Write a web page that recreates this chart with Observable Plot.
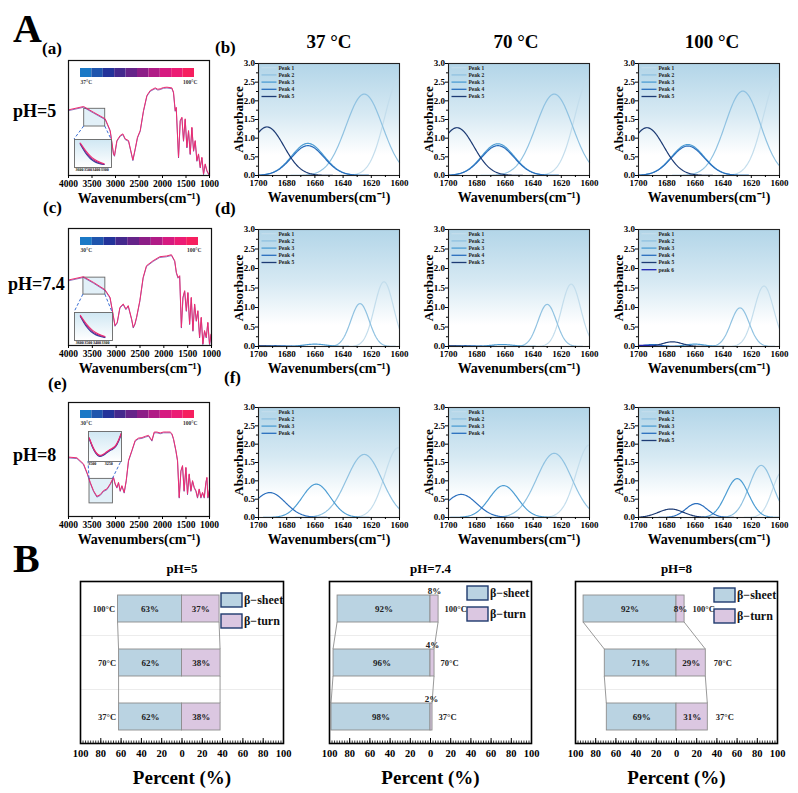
<!DOCTYPE html>
<html>
<head>
<meta charset="utf-8">
<script src="https://cdn.jsdelivr.net/npm/d3@7"></script>
<script src="https://cdn.jsdelivr.net/npm/@observablehq/plot@0.6"></script>
<style>
  body { margin: 0; background: #fff; }
  #fig { position: relative; width: 798px; height: 793px; overflow: hidden;
         font-family: "Liberation Serif", "Times New Roman", serif; font-weight: bold; color: #000; }
  .lbl { position: absolute; white-space: nowrap; line-height: 1; }
</style>
</head>
<body>
<div id="fig"></div>
<script>
// ---------- Data ----------
const phLabels = ["pH=5", "pH=7.4", "pH=8"];
const tempTitles = ["37 °C", "70 °C", "100 °C"];
const peakNames5 = ["Peak 1", "Peak 2", "Peak 3", "Peak 4", "Peak 5"];
const peakNames4 = ["Peak 1", "Peak 2", "Peak 3", "Peak 4"];
const peakNames6 = ["Peak 1", "Peak 2", "Peak 3", "Peak 4", "Peak 5", "peak 6"];
const peakColors = ["#c3ddec", "#90c2e1", "#4d9dd3", "#2a6ebd", "#1d3b74", "#1f22b0"];

// FTIR spectra, [wavenumber (cm-1), transmittance (a.u.)]
const spectrum_pH5 = [[4000,57.1],[3680,60],[3467,55],[3219,49.3],[3113,39.1],[3042,18.8],[3021,17.4],[2970,30.4],[2900,34.8],[2843,36.2],[2793,31.9],[2723,30.4],[2630,13.6],[2581,23.2],[2532,33.3],[2474,39.1],[2404,56.5],[2332,69.6],[2261,73.9],[2155,76.2],[2100,75],[2049,75.4],[1980,76.5],[1906,76.8],[1800,76.2],[1766,72.5],[1730,56.5],[1708,59.4],[1659,15.9],[1623,47.8],[1587,50.7],[1553,30.4],[1517,49.3],[1481,24.6],[1446,39.1],[1410,18.8],[1375,42],[1339,21.7],[1304,30.4],[1268,13],[1234,18.8],[1197,7.2],[1162,15.9],[1127,1.4],[1091,10.1],[1055,4.3],[1000,0]];
const spectrum_pH74 = [[4000,56],[3687,58.8],[3478,54],[3234,47.7],[3129,41.2],[3060,25.6],[3025,17.1],[2977,19.9],[2921,32.7],[2852,35.5],[2796,31.3],[2747,34.1],[2676,22.7],[2642,15.6],[2607,18.5],[2572,24.2],[2503,38.4],[2434,58.2],[2364,68.2],[2225,72.5],[2085,75.9],[1946,76.5],[1841,77.6],[1772,72.5],[1737,62.5],[1703,58.2],[1668,59.7],[1632,15.6],[1599,41.2],[1563,46.9],[1528,29.8],[1495,45.4],[1459,18.5],[1424,41.2],[1390,12.8],[1354,35.5],[1319,21.3],[1286,29.8],[1250,7.1],[1215,24.2],[1181,1.4],[1146,12.8],[1110,7.1],[1077,19.9],[1042,1.4],[1006,10],[1000,0]];
const spectrum_pH8 = [[4000,52.1],[3821,51.5],[3681,46.2],[3596,37.4],[3538,30],[3468,22.7],[3396,17.7],[3325,19.2],[3255,22.7],[3183,24.2],[3113,28.6],[3042,34.4],[3006,28.6],[2970,25.6],[2936,30],[2900,22.7],[2864,27.1],[2815,21.2],[2772,31.5],[2723,49.2],[2651,58],[2581,66.8],[2510,68.8],[2438,69.2],[2368,70.3],[2298,71.2],[2225,66.8],[2176,74.1],[2119,74.1],[2049,73.3],[1978,74.1],[1906,74.1],[1836,74.1],[1800,72.7],[1766,68.3],[1715,58],[1680,49.2],[1644,16.8],[1608,40.3],[1574,44.7],[1540,22.7],[1502,43.2],[1468,19.8],[1432,37.4],[1396,22.7],[1361,31.5],[1325,25.6],[1289,22.7],[1255,16.8],[1219,24.2],[1183,16.8],[1148,21.2],[1112,16.8],[1077,30],[1055,34.4],[1034,16.8],[1000,24.2]];

// O–H stretch close-ups (relative units), one line per temperature
const insetWn_pH5 = [3592, 3551, 3511, 3470, 3430, 3389, 3349, 3308];
const inset37_pH5 = [0.88, 0.65, 0.46, 0.32, 0.23, 0.17, 0.13, 0.11];
const inset70_pH5 = [0.90, 0.69, 0.50, 0.36, 0.27, 0.20, 0.15, 0.12];
const inset100_pH5 = [0.92, 0.74, 0.56, 0.42, 0.32, 0.24, 0.18, 0.14];
const insetWn_pH74 = [3592, 3551, 3511, 3470, 3430, 3389, 3349, 3308];
const inset30_pH74 = [0.90, 0.66, 0.47, 0.33, 0.24, 0.18, 0.14, 0.11];
const inset70_pH74 = [0.92, 0.70, 0.51, 0.37, 0.28, 0.21, 0.16, 0.13];
const inset100_pH74 = [0.94, 0.75, 0.57, 0.43, 0.33, 0.25, 0.19, 0.15];
const insetWn_pH8 = [3545, 3496, 3446, 3397, 3347, 3298, 3248, 3199, 3149, 3100, 3065];
const inset30_pH8 = [0.80, 0.49, 0.27, 0.16, 0.19, 0.27, 0.36, 0.42, 0.49, 0.72, 0.95];
const inset70_pH8 = [0.82, 0.51, 0.29, 0.18, 0.21, 0.29, 0.38, 0.44, 0.51, 0.74, 0.97];
const inset100_pH8 = [0.83, 0.53, 0.31, 0.20, 0.23, 0.31, 0.40, 0.46, 0.53, 0.76, 0.98];

// Heating gradient shown as a colour bar (low → 100 °C)
const heatColors = ["#1b79c6", "#1f55ad", "#23339a", "#44298d", "#652489", "#8c1e87", "#b01b86", "#d61a80", "#ec1b74", "#f61f5f"];

// Amide I band components: [centre (cm-1), height, sigma (cm-1)]
const bands_pH5_37 = [[1600, 2.58, 10.5], [1625, 2.18, 13], [1665, 0.86, 11.5], [1665, 0.80, 11.5], [1694, 1.30, 12]];
const bands_pH5_70 = [[1600, 2.58, 10.5], [1625, 2.18, 13], [1665, 0.85, 11.5], [1665, 0.80, 11.5], [1694, 1.28, 12]];
const bands_pH5_100 = [[1601, 2.6, 10.5], [1626, 2.26, 12.5], [1665, 0.83, 11.5], [1665, 0.79, 11.5], [1694, 1.28, 12]];
const bands_pH74_37 = [[1611, 1.66, 6.8], [1628, 1.10, 6.5], [1660, 0.06, 8], [1688, 0.02, 8], [1700, 0.02, 6]];
const bands_pH74_70 = [[1613, 1.60, 6.8], [1630, 1.08, 6.5], [1662, 0.05, 8], [1688, 0.02, 8], [1700, 0.02, 6]];
const bands_pH74_100 = [[1611, 1.55, 7], [1628, 0.99, 6.5], [1660, 0.06, 7], [1690, 0.05, 6], [1676, 0.12, 7], [1697, 0.03, 5]];
const bands_pH8_37 = [[1601, 1.90, 9.5], [1625, 1.72, 12.5], [1659, 0.91, 10], [1692, 0.68, 11]];
const bands_pH8_70 = [[1600, 1.98, 9.5], [1625, 1.75, 12.5], [1661, 0.87, 10], [1691, 0.63, 11]];
const bands_pH8_100 = [[1598, 1.25, 7], [1613, 1.42, 8.5], [1630, 1.06, 8], [1659, 0.38, 7.5], [1677, 0.23, 9]];

// Secondary structure fractions (%)
const structTemps = ["100°C", "70°C", "37°C"];
const sheet_pH5 = [63, 62, 62], turn_pH5 = [37, 38, 38];
const sheet_pH74 = [92, 96, 98], turn_pH74 = [8, 4, 2];
const sheet_pH8 = [92, 71, 69], turn_pH8 = [8, 29, 31];
const structNames = ["β−sheet", "β−turn"];

// ---------- Helpers ----------
const fig = document.getElementById("fig");
const serif = "'Liberation Serif', 'Times New Roman', serif";
const plain = d3.format("d");
const baseStyle = (size) => ({fontFamily: serif, fontWeight: "bold", fontSize: size + "px",
  overflow: "visible", background: "none", color: "#000"});

function place(svg, left, top) {
  svg.style.position = "absolute";
  svg.style.left = left + "px";
  svg.style.top = top + "px";
  fig.appendChild(svg);
}

function label(text, x, baseline, size, anchor = "start") {
  const d = document.createElement("div");
  d.className = "lbl";
  d.textContent = text;
  d.style.fontSize = size + "px";
  d.style.left = x + "px";
  d.style.top = (baseline - 0.8375 * size) + "px";
  if (anchor === "middle") d.style.transform = "translateX(-50%)";
  fig.appendChild(d);
}

// vertical gradient filling the plot frame
function gradientBg(id, stops) {
  return (index, scales, values, dims) => {
    const g = d3.create("svg:g");
    const lg = g.append("defs").append("linearGradient").attr("id", id)
      .attr("x1", 0).attr("y1", 0).attr("x2", 0).attr("y2", 1);
    for (const [o, c] of stops) lg.append("stop").attr("offset", o).attr("stop-color", c);
    g.append("rect")
      .attr("x", dims.marginLeft).attr("y", dims.marginTop)
      .attr("width", dims.width - dims.marginLeft - dims.marginRight)
      .attr("height", dims.height - dims.marginTop - dims.marginBottom)
      .attr("fill", `url(#${id})`);
    return g.node();
  };
}
const skyStops = [[0, "#b2d5e8"], [0.45, "#d6e9f3"], [0.82, "#ffffff"], [1, "#ffffff"]];

// ---------- Amide I deconvolution panels ----------
function peakLegend(names, colors) {
  return (index, scales, values, dims) => {
    const g = d3.create("svg:g").attr("font-size", 5.5).attr("font-weight", "bold").attr("text-anchor", "start");
    names.forEach((n, i) => {
      const y = dims.marginTop + 4.7 + i * 7.2;
      const x = dims.marginLeft + 3.5;
      g.append("line").attr("x1", x).attr("x2", x + 15).attr("y1", y).attr("y2", y)
        .attr("stroke", colors[i]).attr("stroke-width", 1.3);
      g.append("text").attr("x", x + 17).attr("y", y).attr("dy", "0.35em").attr("fill", "#222").text(n);
    });
    return g.node();
  };
}

let gid = 0;
function deconPanel(bands, names, [x0, y0, x1, y1]) {
  const mL = 44, mR = 14, mT = 8, mB = 34;
  const colors = peakColors.slice(0, names.length);
  const grid = d3.range(1700, 1599.9, -0.5);
  const curves = bands.flatMap(([c, a, s], i) =>
    grid.map((w) => ({peak: names[i], w, A: a * Math.exp(-((w - c) ** 2) / (2 * s * s))})));
  const svg = Plot.plot({
    width: x1 - x0 + mL + mR, height: y1 - y0 + mT + mB,
    marginLeft: mL, marginRight: mR, marginTop: mT, marginBottom: mB,
    style: baseStyle(9),
    x: {domain: [1700, 1600]},
    y: {domain: [0, 3]},
    color: {domain: names, range: colors},
    marks: [
      gradientBg("sky" + (gid++), skyStops),
      Plot.line(curves, {x: "w", y: "A", z: "peak", stroke: "peak", strokeWidth: 1.2}),
      peakLegend(names, colors),
      Plot.frame({stroke: "#222", strokeWidth: 1.1}),
      Plot.axisX({ticks: d3.range(1700, 1599, -20), tickFormat: plain, tickSize: 3, tickPadding: 1.5, fontSize: 9, label: null}),
      Plot.axisX({ticks: d3.range(1690, 1600, -20), tickSize: 2, tickFormat: () => "", label: null}),
      Plot.axisY({ticks: d3.range(0, 3.01, 0.5), tickFormat: d3.format(".1f"), tickSize: 3, tickPadding: 0.5, fontSize: 9, label: null}),
      Plot.axisY({ticks: d3.range(0.25, 3, 0.5), tickSize: 2, tickFormat: () => "", label: null}),
      Plot.text(["Wavenumbers(cm⁻¹)"], {text: (d) => d, frameAnchor: "bottom", lineAnchor: "middle", dy: 22, fontSize: 14, fontWeight: "bold"}),
      Plot.text(["Absorbance"], {text: (d) => d, frameAnchor: "left", textAnchor: "middle", lineAnchor: "middle", dx: -20, rotate: -90, fontSize: 13, fontWeight: "bold"})
    ]
  });
  place(svg, x0 - mL, y0 - mT);
}

// ---------- Full-range FTIR panels ----------
function zoomConnectors(box, insetFrame, insetBelow, ox, oy) {
  return (index, {x, y}) => {
    const g = d3.create("svg:g").attr("stroke", "#3a6fd4").attr("stroke-width", 1)
      .attr("stroke-dasharray", "3,2").attr("fill", "none");
    const [ix0, iy0, ix1, iy1] = insetFrame;
    const by = insetBelow ? y(box.t1) : y(box.t2);
    const iy = (insetBelow ? iy0 : iy1) - oy;
    g.append("line").attr("x1", x(box.w1)).attr("y1", by).attr("x2", ix0 - ox).attr("y2", iy);
    g.append("line").attr("x1", x(box.w2)).attr("y1", by).attr("x2", ix1 - ox).attr("y2", iy);
    return g.node();
  };
}

function spectrumPanel(p) {
  const [x0, y0, x1, y1] = p.frame;
  const mL = 14, mR = 14, mT = 4, mB = 34;
  const pts = p.spectrum.map(([w, t]) => ({w, t}));
  const svg = Plot.plot({
    width: x1 - x0 + mL + mR, height: y1 - y0 + mT + mB,
    marginLeft: mL, marginRight: mR, marginTop: mT, marginBottom: mB,
    style: baseStyle(9.5),
    x: {domain: [4000, 1000]},
    y: {domain: [0, 100], axis: null},
    marks: [
      Plot.rect([p.box], {x1: "w1", x2: "w2", y1: "t1", y2: "t2", fill: "#cfe6f3", fillOpacity: 0.6, stroke: "#666", strokeWidth: 0.9}),
      Plot.line(pts, {x: "w", y: "t", stroke: "#5a36a0", strokeWidth: 1, strokeOpacity: 0.7, dy: 0.8}),
      Plot.line(pts, {x: "w", y: "t", stroke: "#ee2c70", strokeWidth: 1}),
      zoomConnectors(p.box, p.insetFrame, p.insetBelow, x0 - mL, y0 - mT),
      Plot.frame({stroke: "#111", strokeWidth: 1.2}),
      Plot.axisX({ticks: d3.range(4000, 999, -500), tickFormat: plain, tickSize: 3, tickPadding: 1.5, fontSize: 9.5, label: null}),
      Plot.text(["Wavenumbers(cm⁻¹)"], {text: (d) => d, frameAnchor: "bottom", lineAnchor: "middle", dy: 23, fontSize: 14, fontWeight: "bold"})
    ]
  });
  place(svg, x0 - mL, y0 - mT);

  // close-up of the O–H stretch region
  const [ix0, iy0, ix1, iy1] = p.insetFrame;
  const iL = 1, iR = 1, iT = 1, iB = 6;
  const mk = (vals) => vals.map((v, i) => ({w: p.insetWn[i], v}));
  const inset = Plot.plot({
    width: ix1 - ix0 + iL + iR, height: iy1 - iy0 + iT + iB,
    marginLeft: iL, marginRight: iR, marginTop: iT, marginBottom: iB,
    style: baseStyle(4),
    x: {domain: p.insetDomain},
    y: {domain: [0, 1.05], axis: null},
    marks: [
      gradientBg("sky" + (gid++), [[0, "#cfe7f3"], [1, "#ffffff"]]),
      Plot.line(mk(p.insetLines[0]), {x: "w", y: "v", stroke: "#2c3f9e", strokeWidth: 1.1, curve: "basis"}),
      Plot.line(mk(p.insetLines[1]), {x: "w", y: "v", stroke: "#8d2a8c", strokeWidth: 1.1, curve: "basis"}),
      Plot.line(mk(p.insetLines[2]), {x: "w", y: "v", stroke: "#ee2c70", strokeWidth: 1.1, curve: "basis"}),
      Plot.frame({stroke: "#666", strokeWidth: 0.9}),
      Plot.axisX({ticks: p.insetTicks, tickFormat: plain, tickSize: 0, tickPadding: 1, fontSize: 4, label: null})
    ]
  });
  place(inset, ix0 - iL, iy0 - iT);

  // heating colour bar
  const [bx0, by0, bx1, by1] = p.barFrame;
  const steps = heatColors.map((c, i) => ({i, c}));
  const bar = Plot.plot({
    width: bx1 - bx0, height: by1 - by0 + 8,
    marginLeft: 0, marginRight: 0, marginTop: 0, marginBottom: 8,
    style: baseStyle(5.5),
    x: {domain: [0, heatColors.length], axis: null},
    color: {type: "identity"},
    marks: [
      Plot.barX(steps, {x1: "i", x2: (d) => d.i + 1, fill: "c"}),
      Plot.text([p.lowLabel], {text: (d) => d, frameAnchor: "bottom-left", textAnchor: "start", lineAnchor: "middle", dy: 5, fontSize: 5.5, fill: "#333"}),
      Plot.text(["100°C"], {text: (d) => d, frameAnchor: "bottom-right", textAnchor: "end", lineAnchor: "middle", dx: 3, dy: 5, fontSize: 5.5, fill: "#333"})
    ]
  });
  place(bar, bx0, by0);
}

// ---------- Secondary structure bars ----------
function structConnectors(rows) {
  return (index, {x, y}, values, dims) => {
    const bw = typeof y.bandwidth === "function" ? y.bandwidth() : y.bandwidth;
    const g = d3.create("svg:g").attr("fill", "none");
    // faint separators between categories
    for (let i = 1; i < rows.length; i++) {
      const ym = (y(rows[i - 1].temp) + bw + y(rows[i].temp)) / 2;
      g.append("line").attr("x1", dims.marginLeft).attr("x2", dims.width - dims.marginRight)
        .attr("y1", ym).attr("y2", ym).attr("stroke", "#ececec").attr("stroke-width", 1);
    }
    for (let i = 1; i < rows.length; i++) {
      const a = rows[i - 1], b = rows[i];
      const ya = y(a.temp) + bw, yb = y(b.temp);
      g.append("line").attr("x1", x(-a.sheet)).attr("y1", ya).attr("x2", x(-b.sheet)).attr("y2", yb)
        .attr("stroke", "#8d8d8d").attr("stroke-width", 0.9);
      g.append("line").attr("x1", x(a.turn)).attr("y1", ya).attr("x2", x(b.turn)).attr("y2", yb)
        .attr("stroke", "#8d8d8d").attr("stroke-width", 0.9);
    }
    return g.node();
  };
}

function structLegend(fills, dxRight, dyTop) {
  return (index, scales, values, dims) => {
    const g = d3.create("svg:g").attr("font-size", 12).attr("font-weight", "bold").attr("text-anchor", "start");
    const xr = dims.width - dims.marginRight + dxRight;
    structNames.forEach((n, i) => {
      const yt = dims.marginTop + dyTop + i * 21;
      g.append("rect").attr("x", xr).attr("y", yt).attr("width", 21).attr("height", 14)
        .attr("fill", fills[i]).attr("stroke", "#1f3a6e").attr("stroke-width", 1.4);
      g.append("text").attr("x", xr + 23).attr("y", yt + 7).attr("dy", "0.35em").attr("fill", "#111").text(n);
    });
    return g.node();
  };
}

function structPanel(p) {
  const [x0, y0, x1, y1] = p.frame;
  const mL = 24, mR = 24, mT = 30, mB = 50;
  const rows = structTemps.map((temp, i) => ({temp, sheet: p.sheet[i], turn: p.turn[i]}));
  const fills = ["#bad3e2", "#dbc7e1"];
  const fh = y1 - y0;
  const svg = Plot.plot({
    width: x1 - x0 + mL + mR, height: y1 - y0 + mT + mB,
    marginLeft: mL, marginRight: mR, marginTop: mT, marginBottom: mB,
    style: baseStyle(10),
    x: {domain: [-100, 100]},
    y: {domain: structTemps, paddingInner: 0.5, paddingOuter: 0.23, axis: null},
    marks: [
      structConnectors(rows),
      Plot.barX(rows, {x1: () => 0, x2: (d) => -d.sheet, y: "temp", fill: fills[0], stroke: "#8d8d8d", strokeWidth: 0.9}),
      Plot.barX(rows, {x1: () => 0, x2: (d) => d.turn, y: "temp", fill: fills[1], stroke: "#8d8d8d", strokeWidth: 0.9}),
      Plot.text(rows, {x: (d) => -d.sheet / 2, y: "temp", text: (d) => d.sheet + "%", fontSize: 9, fill: "#222"}),
      Plot.text(rows, {x: (d) => d.turn / 2, y: "temp", text: (d) => d.turn + "%", fontSize: 9, fill: "#222", dy: p.turnAbove ? -18 : 0}),
      p.tempLeft
        ? Plot.text(rows, {x: (d) => -d.sheet, y: "temp", text: "temp", textAnchor: "end", dx: -3, fontSize: 8.5, fill: "#222"})
        : Plot.text(rows, {x: (d) => d.turn, y: "temp", text: "temp", textAnchor: "start", dx: p.tempDx, fontSize: 8.5, fill: "#222"}),
      structLegend(fills, p.legendDx, p.legendDy),
      Plot.frame({stroke: "#000", strokeWidth: 1.6}),
      Plot.tickX(d3.range(-100, 100.1, 20), {x: (d) => d, insetTop: fh - 5, stroke: "#000", strokeWidth: 1}),
      Plot.tickX(d3.range(-97.5, 100, 2.5), {x: (d) => d, insetTop: fh - 2.5, stroke: "#000", strokeWidth: 0.8}),
      Plot.axisX({ticks: d3.range(-100, 100.1, 20), tickFormat: (d) => Math.abs(d), tickSize: 0, tickPadding: 6, fontSize: 10.5, label: null}),
      Plot.text(["Percent (%)"], {text: (d) => d, frameAnchor: "bottom", lineAnchor: "middle", dy: 34, fontSize: 19, fontWeight: "bold"}),
      Plot.text([p.title], {text: (d) => d, frameAnchor: "top", lineAnchor: "middle", dy: -13, fontSize: 13, fontWeight: "bold"})
    ]
  });
  place(svg, x0 - mL, y0 - mT);
}

// ---------- Layout ----------
label("A", 13, 42, 40);
label("(a)", 42, 54, 17);
label("(b)", 215, 53, 17);
label(tempTitles[0], 329, 48, 19, "middle");
label(tempTitles[1], 516, 48, 19, "middle");
label(tempTitles[2], 712, 48, 19, "middle");
label(phLabels[0], 13, 117, 18);
label("(c)", 43, 213, 17);
label("(d)", 215, 214, 17);
label(phLabels[1], 8, 290, 18);
label("(e)", 48, 389, 17);
label("(f)", 224, 383, 17);
label(phLabels[2], 13, 461, 18);
label("B", 13, 572, 40);

spectrumPanel({
  frame: [68, 60, 209, 175], spectrum: spectrum_pH5,
  box: {w1: 3666, w2: 3219, t1: 42.6, t2: 58},
  insetFrame: [74, 139, 111, 167], insetBelow: true,
  insetDomain: [3660, 3220], insetTicks: [3600, 3500, 3400, 3300],
  insetWn: insetWn_pH5, insetLines: [inset37_pH5, inset70_pH5, inset100_pH5],
  barFrame: [80, 68, 194, 77], lowLabel: "37°C"
});
spectrumPanel({
  frame: [68, 228, 211, 345], spectrum: spectrum_pH74,
  box: {w1: 3687, w2: 3227, t1: 43.5, t2: 58},
  insetFrame: [74, 312, 112, 340], insetBelow: true,
  insetDomain: [3660, 3220], insetTicks: [3600, 3500, 3400, 3300],
  insetWn: insetWn_pH74, insetLines: [inset30_pH74, inset70_pH74, inset100_pH74],
  barFrame: [80, 237, 198, 245], lowLabel: "30°C"
});
spectrumPanel({
  frame: [68, 402, 209, 516], spectrum: spectrum_pH8,
  box: {w1: 3553, w2: 3055, t1: 11.5, t2: 33},
  insetFrame: [88, 431, 121, 461], insetBelow: false,
  insetDomain: [3555, 3060], insetTicks: [3500, 3250],
  insetWn: insetWn_pH8, insetLines: [inset30_pH8, inset70_pH8, inset100_pH8],
  barFrame: [80, 410, 194, 418], lowLabel: "30°C"
});

const colsX = [[258, 399], [448, 589], [638, 779]];
const rowsY = [[63, 175], [229, 346], [407, 517]];
const deconGrid = [
  [[bands_pH5_37, peakNames5], [bands_pH5_70, peakNames5], [bands_pH5_100, peakNames5]],
  [[bands_pH74_37, peakNames5], [bands_pH74_70, peakNames5], [bands_pH74_100, peakNames6]],
  [[bands_pH8_37, peakNames4], [bands_pH8_70, peakNames4], [bands_pH8_100, peakNames5]]
];
deconGrid.forEach((row, r) => row.forEach(([bands, names], c) =>
  deconPanel(bands, names, [colsX[c][0], rowsY[r][0], colsX[c][1], rowsY[r][1]])));

structPanel({title: phLabels[0], frame: [80, 581, 283, 743], sheet: sheet_pH5, turn: turn_pH5,
  tempLeft: true, turnAbove: false, legendDx: -62, legendDy: 12});
structPanel({title: phLabels[1], frame: [329, 581, 531, 743], sheet: sheet_pH74, turn: turn_pH74,
  tempLeft: false, tempDx: 6, turnAbove: true, legendDx: -64, legendDy: 5});
structPanel({title: phLabels[2], frame: [575, 581, 777, 743], sheet: sheet_pH8, turn: turn_pH8,
  tempLeft: false, tempDx: 8, turnAbove: false, legendDx: -63, legendDy: 7});
</script>
</body>
</html>
